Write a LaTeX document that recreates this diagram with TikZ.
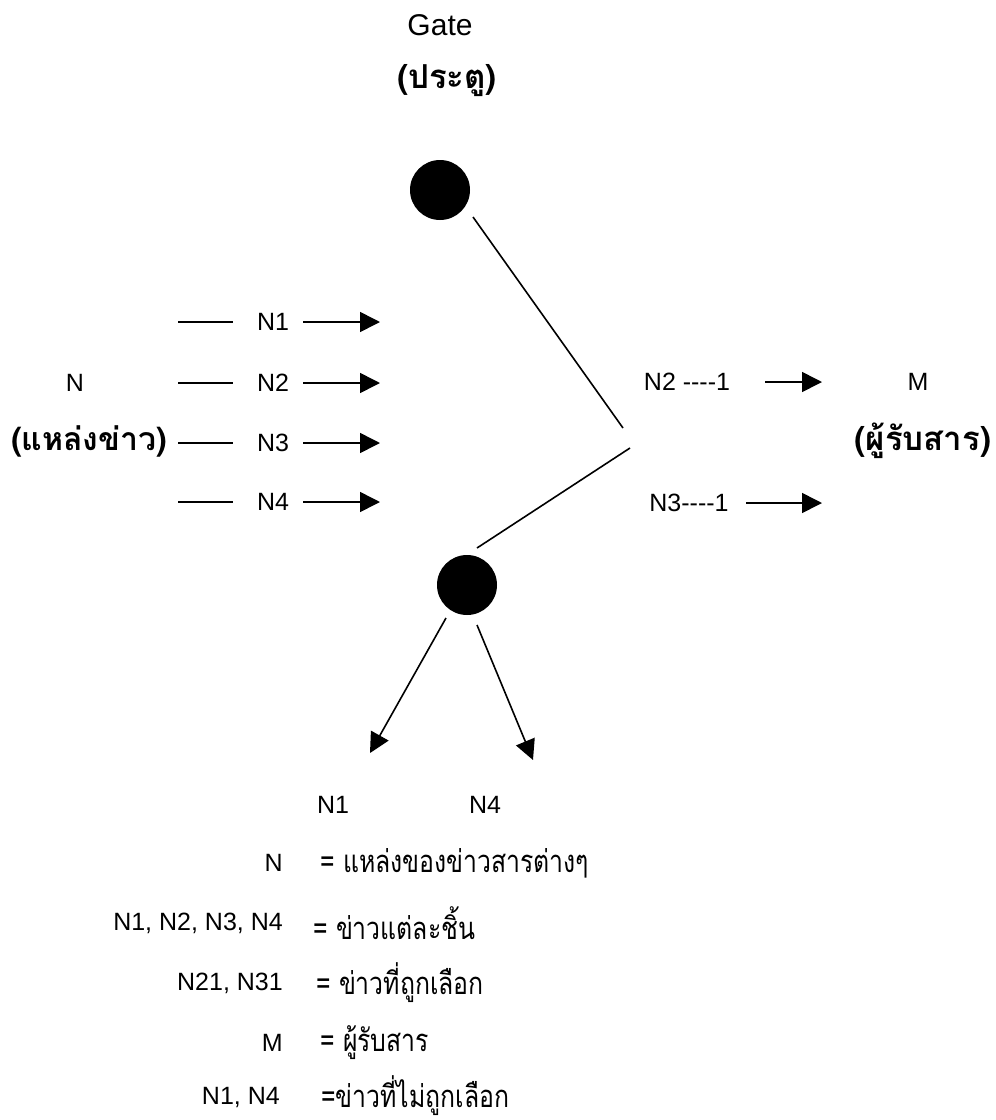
\documentclass[tikz,border=0pt]{standalone}
\usepackage{fontspec}
\setmainfont{Liberation Sans}
\newfontfamily\thaifont[Script=Thai]{Loma}
\newfontfamily\thaicond[Script=Thai,FakeStretch=0.8]{Loma}
\usetikzlibrary{arrows.meta}
\begin{document}
\begin{tikzpicture}[x=1pt,y=-1pt,
  lbl/.style={inner sep=0pt,font=\fontsize{25}{25}\selectfont},
  thb/.style={inner sep=0pt,font=\fontsize{33}{33}\selectfont\thaifont\bfseries},
  thl/.style={inner sep=0pt,anchor=west,font=\fontsize{31}{31}\selectfont\thaicond},
  dot/.style={circle,fill=black,minimum size=60pt,inner sep=0pt},
  ln/.style={line width=1.6pt},
  arr/.style={line width=1.6pt,-{Triangle[length=20pt,width=20pt]}}]
\useasboundingbox (0,0) rectangle (996,1120);
% title
\node[lbl,font=\fontsize{30}{30}\selectfont] (gate) at (440,25) {Gate};
\node[thb] (gateth) at (447,81) {(ประตู)};
% gates
\node[dot] (g1) at (440,190) {};
\node[dot] (g2) at (467,585) {};
\coordinate (a1) at (473,217);
\coordinate (a2) at (623,428);
\coordinate (b1) at (630,448);
\coordinate (b2) at (477,548);
\draw[ln] (a1) -- (a2);
\draw[ln] (b1) -- (b2);
% source
\node[lbl] (src) at (75,383) {N};
\node[thb,font=\fontsize{32}{32}\selectfont\thaifont\bfseries] (srcth) at (89,441) {(แหล่งข่าว)};
% left rows
\foreach \i/\y in {1/322,2/383,3/443,4/502}{
  \node[lbl] (n\i) at (273,\y) {N\i};
  \coordinate (l\i) at (178,\y);
  \coordinate (t\i) at (380,\y);
  \draw[ln] (l\i) -- ([xshift=-40pt]n\i.center);
  \draw[arr] ([xshift=30pt]n\i.center) -- (t\i);
}
% right
\node[lbl] (s2) at (687,382) {N2 -{}-{}-{}-1};
\coordinate (r2) at (822,382);
\draw[arr] (765,382) -- (r2);
\node[lbl] (s3) at (689,503) {N3-{}-{}-{}-1};
\coordinate (r3) at (822,503);
\draw[arr] (746,503) -- (r3);
\node[lbl] (m) at (918,382) {M};
\node[thb] (mth) at (923,441) {(ผู้รับสาร)};
% rejected
\coordinate (c1) at (446,618);
\coordinate (c2) at (477,625);
\coordinate (d1) at (370,753);
\coordinate (d2) at (533,760);
\draw[arr] (c1) -- (d1);
\draw[arr] (c2) -- (d2);
\node[lbl] (o1) at (333,805) {N1};
\node[lbl] (o4) at (485,805) {N4};
% legend
\node[lbl,anchor=east] (k1) at (283,863) {N};
\node[thl] (v1) at (320,863) {= แหล่งของข่าวสารต่างๆ};
\node[lbl,anchor=east] (k2) at (283,923) {N1, N2, N3, N4};
\node[thl] (v2) at (313,923) {= ข่าวแต่ละชิ้น};
\node[lbl,anchor=east] (k3) at (283,983) {N21, N31};
\node[thl] (v3) at (316,983) {= ข่าวที่ถูกเลือก};
\node[lbl,anchor=east] (k4) at (283,1043) {M};
\node[thl] (v4) at (320,1043) {= ผู้รับสาร};
\node[lbl,anchor=east] (k5) at (280,1097) {N1, N4};
\node[thl] (v5) at (321,1096) {=ข่าวที่ไม่ถูกเลือก};
\end{tikzpicture}
\end{document}
